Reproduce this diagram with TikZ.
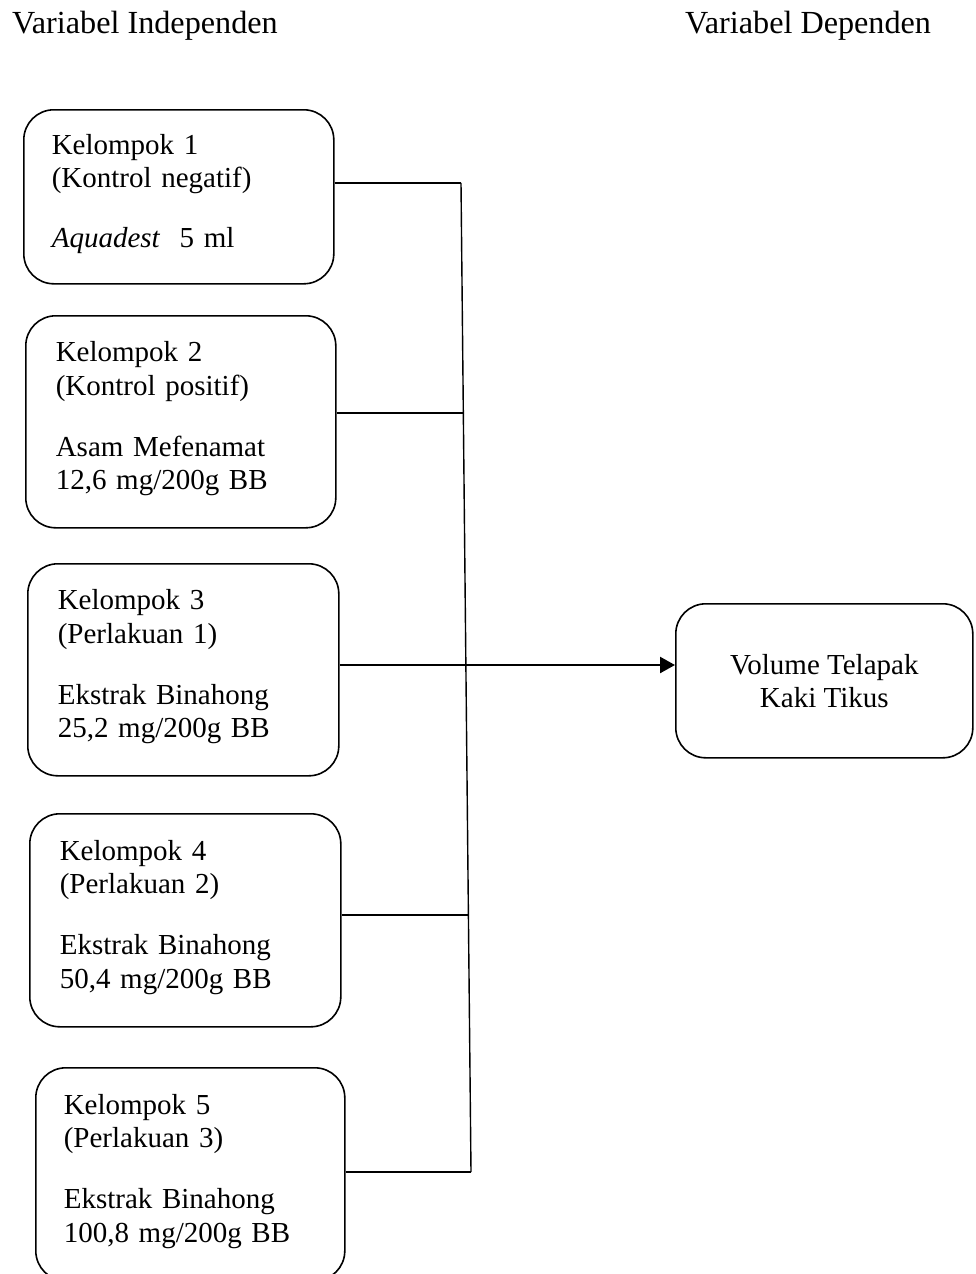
\documentclass[tikz,border=0pt]{standalone}
\usepackage{fontspec}
\setmainfont{Liberation Serif}
\usetikzlibrary{arrows.meta}
\tikzset{
  grpbox/.style={draw, line width=1.6pt, rounded corners=30pt, anchor=north west,
    align=left, inner xsep=30pt, inner ysep=0pt, text depth=140.5pt,
    font=\fontsize{29}{33.5}\selectfont},
  depbox/.style={draw, line width=1.6pt, rounded corners=30pt, anchor=north west,
    align=center, inner sep=0pt, minimum width=297pt, minimum height=154pt,
    text depth=-10pt, font=\fontsize{29}{33.5}\selectfont},
  header/.style={anchor=base west, inner sep=0pt, font=\fontsize{32.2}{36}\selectfont},
  conn/.style={line width=1.4pt},
  arrowline/.style={line width=2.4pt, -{Triangle[length=15pt,width=16pt]}}
}
\begin{document}
\begin{tikzpicture}[x=1pt,y=-1pt]
\useasboundingbox (0,0) rectangle (976,1274);
\clip (0,0) rectangle (976,1274);

\node[header] (hi) at (12,33) {Variabel Independen};
\node[header] (hd) at (685,33) {Variabel Dependen};

\node[grpbox, inner xsep=28pt, text width=254pt, minimum height=174pt, text depth=105.5pt] (k1) at (23,109)
  {Kelompok 1\\(Kontrol negatif)\\[26.5pt]\textit{Aquadest}\ \ 5 ml};
\node[grpbox, text width=250pt, minimum height=212pt] (k2) at (25,315)
  {Kelompok 2\\(Kontrol positif)\\[27.5pt]Asam Mefenamat\\12,6 mg/200g BB};
\node[grpbox, text width=251pt, minimum height=212pt] (k3) at (27,563)
  {Kelompok 3\\(Perlakuan 1)\\[27.5pt]Ekstrak Binahong\\25,2 mg/200g BB};
\node[grpbox, text width=251pt, minimum height=213pt] (k4) at (29,813)
  {Kelompok 4\\(Perlakuan 2)\\[27.5pt]Ekstrak Binahong\\50,4 mg/200g BB};
\node[grpbox, inner xsep=28pt, text width=253pt, minimum height=213pt] (k5) at (35,1067)
  {Kelompok 5\\(Perlakuan 3)\\[27.5pt]Ekstrak Binahong\\100,8 mg/200g BB};

\node[depbox] (vt) at (675,603) {Volume Telapak\\Kaki Tikus};

\coordinate (t) at (461,183);
\coordinate (j2) at (463.3,413);
\coordinate (j3) at (465.9,665);
\coordinate (j4) at (468.4,915);
\coordinate (b) at (471,1172);

\draw[conn] (t) -- (b);
\draw[conn] (k1.east |- t) -- (t);
\draw[conn] (k2.east |- j2) -- (j2);
\draw[conn] (k3.east |- j3) -- (j3);
\draw[conn] (k4.east |- j4) -- (j4);
\draw[conn] (k5.east |- b) -- (b);
\draw[arrowline] (j3) -- (vt.west |- j3);
\end{tikzpicture}
\end{document}
